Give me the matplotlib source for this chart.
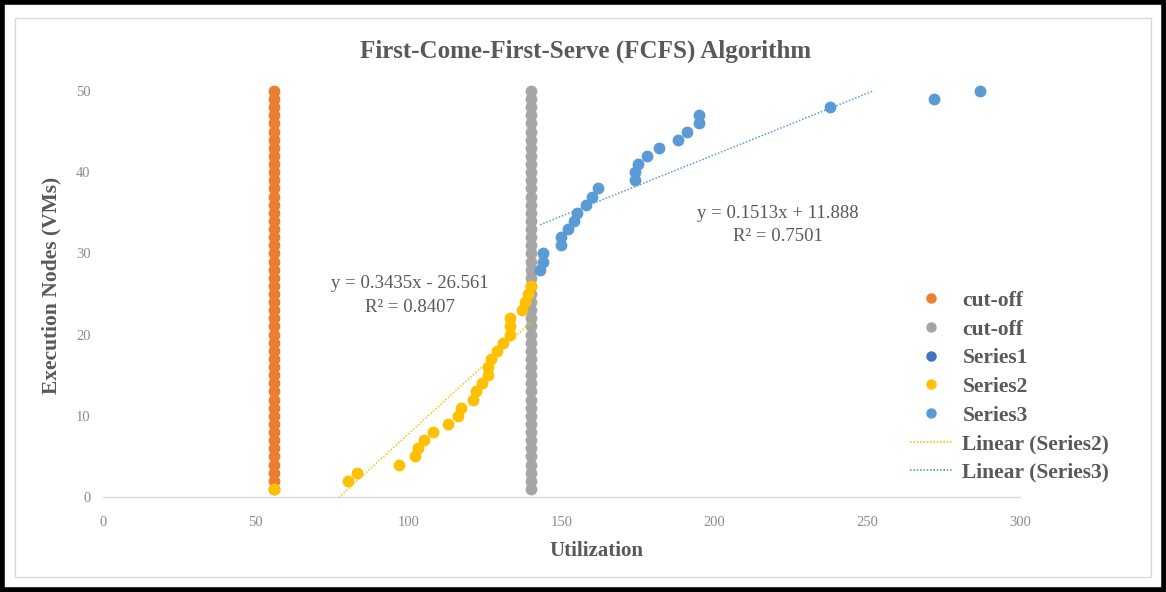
import matplotlib
matplotlib.use("Agg")
import matplotlib.pyplot as plt
from matplotlib.lines import Line2D
from matplotlib.patches import Rectangle
import numpy as np

plt.rcParams['font.family'] = ['Liberation Serif', 'DejaVu Serif']

# ---- data ----
cutoff1_x = [56] * 50
cutoff1_y = list(range(1, 51))
cutoff2_x = [140] * 50
cutoff2_y = list(range(1, 51))
series1_x = []
series1_y = []
series2_y = list(range(1, 27))
series2_x = [56, 80, 83, 97, 102, 103, 105, 108, 113, 116,
             117, 121, 122, 124, 126, 126, 127, 129, 131, 133,
             133, 133, 137, 138, 139, 140]
series3_y = list(range(28, 51))
series3_x = [143, 144, 144, 150, 150, 152, 154, 155, 158, 160,
             162, 174, 174, 175, 178, 182, 188, 191, 195, 195,
             238, 272, 287]
trend2 = (0.3435, -26.561, 0.8407)
trend3 = (0.1513, 11.888, 0.7501)
x_ticks = [0, 50, 100, 150, 200, 250, 300]
y_ticks = [0, 10, 20, 30, 40, 50]

c_orange = '#ED7D31'
c_grey = '#A5A5A5'
c_s1 = '#4472C4'
c_s2 = '#FFC000'
c_s3 = '#5B9BD5'
txt = '#595959'

fig = plt.figure(figsize=(11.66, 5.92), dpi=100)
ax = fig.add_axes([0.0883, 0.1605, 0.7865, 0.6858])

ms = 56
ax.scatter(cutoff1_x, cutoff1_y, s=ms, color=c_orange, zorder=3, label='cut-off', clip_on=False)
ax.scatter(cutoff2_x, cutoff2_y, s=ms, color=c_grey, zorder=3, label='cut-off', clip_on=False)
ax.scatter(series1_x, series1_y, s=ms, color=c_s1, zorder=3, label='Series1')
ax.scatter(series2_x, series2_y, s=ms, color=c_s2, zorder=4, label='Series2', clip_on=False)
ax.scatter(series3_x, series3_y, s=ms, color=c_s3, zorder=5, label='Series3', clip_on=False)

# trendlines spanning each series' x range
xs2 = np.array([min(series2_x), max(series2_x)])
ax.plot(xs2, trend2[0] * xs2 + trend2[1], color=c_s2, lw=1.1, ls=(0, (1, 1.2)), zorder=6)
xs3 = np.array([min(series3_x), max(series3_x)])
ax.plot(xs3, trend3[0] * xs3 + trend3[1], color=c_s3, lw=1.1, ls=(0, (1, 1.2)), zorder=6)

ax.text(100.4, 24.8, "y = 0.3435x - 26.561\nR\u00b2 = 0.8407", ha='center', va='center',
        fontsize=13.5, color=txt, linespacing=1.5)
ax.text(220.8, 33.5, "y = 0.1513x + 11.888\nR\u00b2 = 0.7501", ha='center', va='center',
        fontsize=13.5, color=txt, linespacing=1.5)

ax.set_xlim(0, 300)
ax.set_ylim(0, 50)
ax.set_xticks(x_ticks)
ax.set_yticks(y_ticks)
ax.tick_params(length=0, labelsize=10.5, colors='#8C8C8C', pad=14)
ax.tick_params(axis='y', pad=9)
for s in ['top', 'right', 'left']:
    ax.spines[s].set_visible(False)
ax.spines['bottom'].set_color('#D9D9D9')
ax.spines['bottom'].set_linewidth(1)

ax.set_xlabel('Utilization', fontsize=15, fontweight='bold', color=txt)
ax.xaxis.set_label_coords((596 - 103) / 917, -0.108)
ax.set_ylabel('Execution Nodes (VMs)', fontsize=15.5, fontweight='bold', color=txt)
ax.yaxis.set_label_coords(-0.045, 0.522)
fig.text(0.502, 0.913, 'First-Come-First-Serve (FCFS) Algorithm', ha='center', va='center',
         fontsize=18, fontweight='bold', color=txt)

handles = [
    Line2D([], [], ls='none', marker='o', ms=6.5, color=c_orange),
    Line2D([], [], ls='none', marker='o', ms=6.5, color=c_grey),
    Line2D([], [], ls='none', marker='o', ms=6.5, color=c_s1),
    Line2D([], [], ls='none', marker='o', ms=6.5, color=c_s2),
    Line2D([], [], ls='none', marker='o', ms=6.5, color=c_s3),
    Line2D([], [], color=c_s2, lw=1.2, ls=(0, (1, 1))),
    Line2D([], [], color=c_s3, lw=1.2, ls=(0, (1, 1))),
]
labels = ['cut-off', 'cut-off', 'Series1', 'Series2', 'Series3',
          'Linear (Series2)', 'Linear (Series3)']
leg = fig.legend(handles, labels, loc='upper left', bbox_to_anchor=(0.771, 0.527),
                 frameon=False, fontsize=15.5, handlelength=2.0, handletextpad=0.45,
                 labelspacing=0.4, borderpad=0)
for t in leg.get_texts():
    t.set_color(txt)
    t.set_fontweight('bold')

# chart area border and outer black frame
fig.patches.append(Rectangle((0.013, 0.025), 0.974, 0.945, transform=fig.transFigure,
                             fill=False, edgecolor='#D9D9D9', lw=1))
fig.patches.append(Rectangle((0.002, 0.004), 0.996, 0.992, transform=fig.transFigure,
                             fill=False, edgecolor='black', lw=4))

fig.savefig('out.png', dpi=100)
